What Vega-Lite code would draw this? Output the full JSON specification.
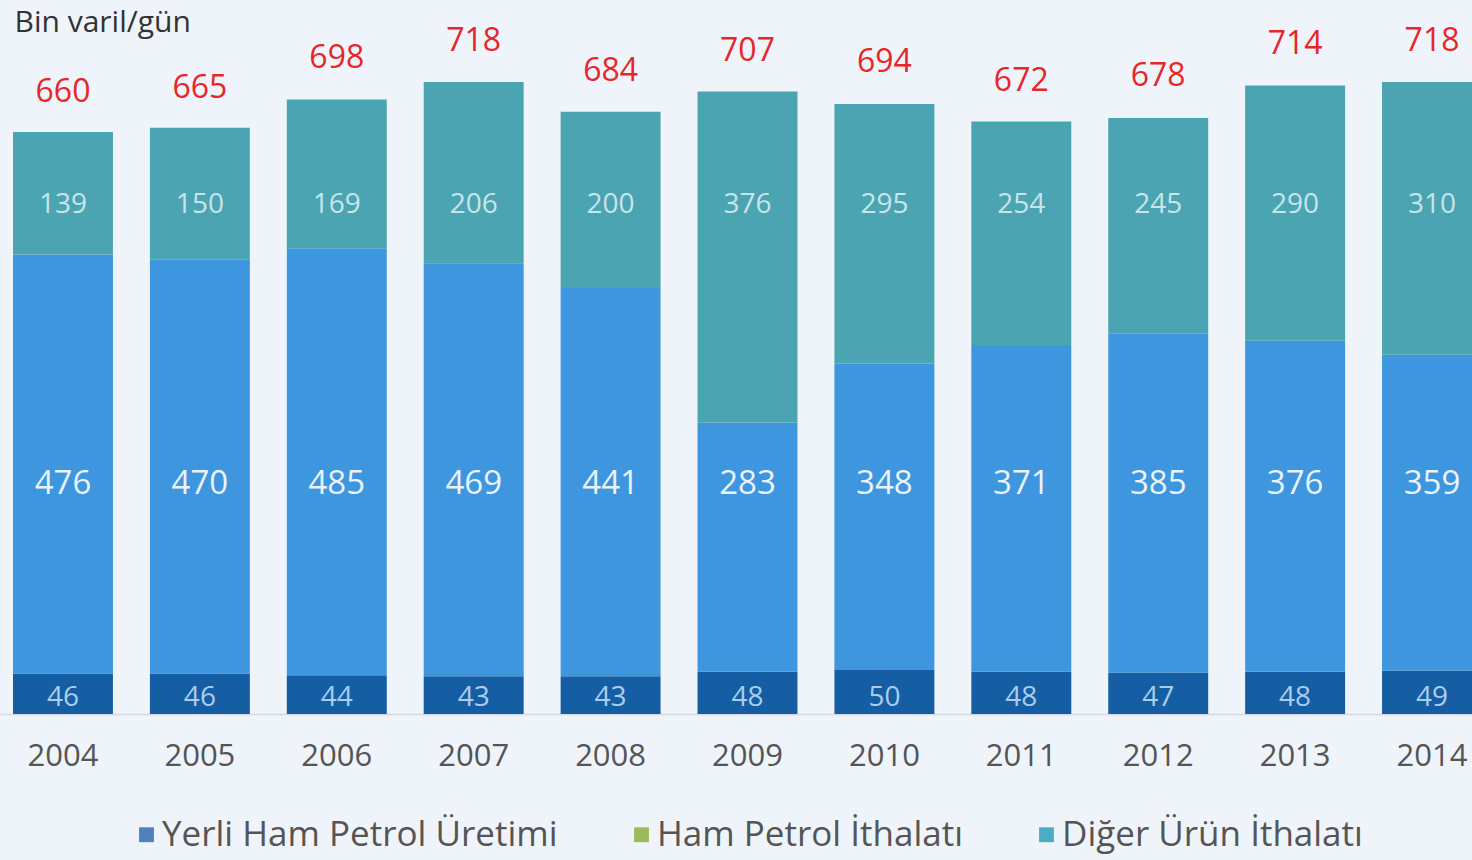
{
  "$schema": "https://vega.github.io/schema/vega-lite/v6.json",
  "width": 1472,
  "height": 714,
  "autosize": {"type": "none"},
  "padding": {"left": 0, "top": 0, "right": 0, "bottom": 146},
  "background": "#eef4fa",
  "config": {"view": {"stroke": null}, "font": "Open Sans"},
  "datasets": {
    "seg": [
      {"year": "2004", "seg": "Yerli", "ord": 1, "value": 46},
      {"year": "2004", "seg": "HamIth", "ord": 2, "value": 476},
      {"year": "2004", "seg": "Diger", "ord": 3, "value": 139},
      {"year": "2005", "seg": "Yerli", "ord": 1, "value": 46},
      {"year": "2005", "seg": "HamIth", "ord": 2, "value": 470},
      {"year": "2005", "seg": "Diger", "ord": 3, "value": 150},
      {"year": "2006", "seg": "Yerli", "ord": 1, "value": 44},
      {"year": "2006", "seg": "HamIth", "ord": 2, "value": 485},
      {"year": "2006", "seg": "Diger", "ord": 3, "value": 169},
      {"year": "2007", "seg": "Yerli", "ord": 1, "value": 43},
      {"year": "2007", "seg": "HamIth", "ord": 2, "value": 469},
      {"year": "2007", "seg": "Diger", "ord": 3, "value": 206},
      {"year": "2008", "seg": "Yerli", "ord": 1, "value": 43},
      {"year": "2008", "seg": "HamIth", "ord": 2, "value": 441},
      {"year": "2008", "seg": "Diger", "ord": 3, "value": 200},
      {"year": "2009", "seg": "Yerli", "ord": 1, "value": 48},
      {"year": "2009", "seg": "HamIth", "ord": 2, "value": 283},
      {"year": "2009", "seg": "Diger", "ord": 3, "value": 376},
      {"year": "2010", "seg": "Yerli", "ord": 1, "value": 50},
      {"year": "2010", "seg": "HamIth", "ord": 2, "value": 348},
      {"year": "2010", "seg": "Diger", "ord": 3, "value": 295},
      {"year": "2011", "seg": "Yerli", "ord": 1, "value": 48},
      {"year": "2011", "seg": "HamIth", "ord": 2, "value": 371},
      {"year": "2011", "seg": "Diger", "ord": 3, "value": 254},
      {"year": "2012", "seg": "Yerli", "ord": 1, "value": 47},
      {"year": "2012", "seg": "HamIth", "ord": 2, "value": 385},
      {"year": "2012", "seg": "Diger", "ord": 3, "value": 245},
      {"year": "2013", "seg": "Yerli", "ord": 1, "value": 48},
      {"year": "2013", "seg": "HamIth", "ord": 2, "value": 376},
      {"year": "2013", "seg": "Diger", "ord": 3, "value": 290},
      {"year": "2014", "seg": "Yerli", "ord": 1, "value": 49},
      {"year": "2014", "seg": "HamIth", "ord": 2, "value": 359},
      {"year": "2014", "seg": "Diger", "ord": 3, "value": 310}
    ],
    "totals": [
      {"year": "2004", "total": 660},
      {"year": "2005", "total": 665},
      {"year": "2006", "total": 698},
      {"year": "2007", "total": 718},
      {"year": "2008", "total": 684},
      {"year": "2009", "total": 707},
      {"year": "2010", "total": 694},
      {"year": "2011", "total": 672},
      {"year": "2012", "total": 678},
      {"year": "2013", "total": 714},
      {"year": "2014", "total": 718}
    ],
    "legend": [
      {"leg": "Yerli Ham Petrol Üretimi"},
      {"leg": "Ham Petrol İthalatı"},
      {"leg": "Diğer Ürün İthalatı"}
    ]
  },
  "layer": [
    {
      "data": {"name": "seg"},
      "mark": {"type": "bar"},
      "encoding": {
        "x": {
          "field": "year", "type": "nominal",
          "scale": {"range": [0, 1495], "paddingInner": 0.27, "paddingOuter": 0.095},
          "axis": {"title": null, "labelAngle": 0, "ticks": false, "labelFontSize": 31, "labelColor": "#555555", "labelPadding": 27, "domainColor": "#d3d9e0", "domainWidth": 1.5}
        },
        "y": {
          "field": "value", "type": "quantitative", "stack": "zero",
          "scale": {"domain": [0, 811], "nice": false},
          "axis": {"domain": false, "ticks": false, "labels": false, "grid": false, "title": "Bin varil/gün", "titleAngle": 0, "titleX": 14, "titleY": 22, "titleAlign": "left", "titleBaseline": "middle", "titleFontSize": 30, "titleFontWeight": "normal", "titleColor": "#333333"}
        },
        "fill": {
          "field": "seg", "type": "nominal",
          "scale": {"domain": ["Yerli", "HamIth", "Diger"], "range": ["#155ea4", "#3d96de", "#4aa4b1"]},
          "legend": null
        },
        "order": {"field": "ord", "type": "quantitative"}
      }
    },
    {
      "data": {"name": "seg"},
      "transform": [{"filter": "datum.seg === 'HamIth'"}],
      "mark": {"type": "text", "fontSize": 33, "fill": "#eaf3fc", "baseline": "middle"},
      "encoding": {
        "x": {"field": "year", "type": "nominal"},
        "y": {"datum": 261},
        "text": {"field": "value", "type": "quantitative"}
      }
    },
    {
      "data": {"name": "seg"},
      "transform": [{"filter": "datum.seg === 'Diger'"}],
      "mark": {"type": "text", "fontSize": 28, "fill": "#c9e4e8", "baseline": "middle"},
      "encoding": {
        "x": {"field": "year", "type": "nominal"},
        "y": {"datum": 578},
        "text": {"field": "value", "type": "quantitative"}
      }
    },
    {
      "data": {"name": "seg"},
      "transform": [{"filter": "datum.seg === 'Yerli'"}],
      "mark": {"type": "text", "fontSize": 28, "fill": "#a9cdee", "baseline": "middle"},
      "encoding": {
        "x": {"field": "year", "type": "nominal"},
        "y": {"datum": 18},
        "text": {"field": "value", "type": "quantitative"}
      }
    },
    {
      "data": {"name": "totals"},
      "mark": {"type": "text", "fontSize": 32, "fill": "#e8262a", "fontWeight": 500, "baseline": "middle", "dy": -41},
      "encoding": {
        "x": {"field": "year", "type": "nominal"},
        "y": {"field": "total", "type": "quantitative"},
        "text": {"field": "total", "type": "quantitative"}
      }
    },
    {
      "data": {"name": "legend"},
      "mark": {"type": "square", "opacity": 0},
      "encoding": {
        "color": {
          "field": "leg", "type": "nominal",
          "scale": {"domain": ["Yerli Ham Petrol Üretimi", "Ham Petrol İthalatı", "Diğer Ürün İthalatı"], "range": ["#4f81bd", "#9bbb59", "#4bacc6"]},
          "legend": {"orient": "none", "legendX": 129, "legendY": 817, "direction": "horizontal", "title": null, "symbolType": "square", "symbolSize": 220, "symbolOpacity": 1, "symbolStrokeWidth": 0, "labelFontSize": 35, "labelColor": "#555555", "labelOffset": -2, "columnPadding": 66, "labelLimit": 700}
        }
      }
    }
  ]
}
